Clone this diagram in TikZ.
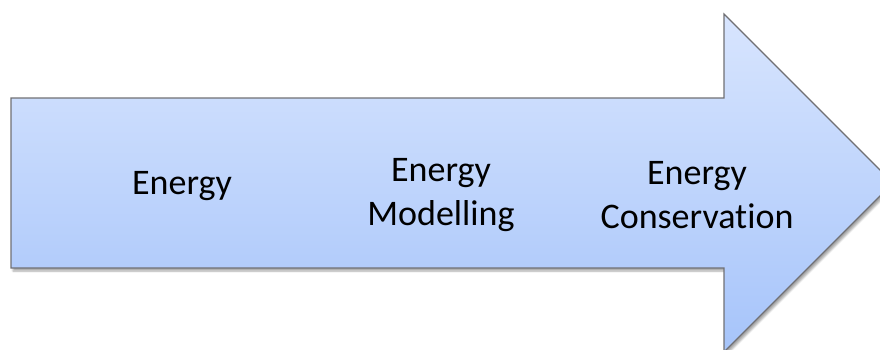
\documentclass[tikz,border=0pt]{standalone}
\usepackage{fontspec}
\setmainfont[Ligatures=NoCommon]{Carlito}
\usetikzlibrary{shadows.blur}
\definecolor{arrowtop}{RGB}{216,229,254}
\definecolor{arrowbot}{RGB}{166,196,250}
\definecolor{arrowline}{RGB}{112,112,116}
\tikzset{
  bigarrow/.style={draw=arrowline, line width=1.2pt, line join=miter,
    top color=arrowtop, bottom color=arrowbot,
    blur shadow={shadow xshift=2pt, shadow yshift=-3pt, shadow blur steps=6, shadow opacity=35}},
  stage/.style={font=\fontsize{36}{44}\selectfont, align=center, text=black, inner sep=0pt}
}
\begin{document}
\begin{tikzpicture}[x=1pt, y=-1pt]
  \useasboundingbox (0,0) rectangle (880,349);
  \clip (0,0) rectangle (880,349);
  % arrow body and head
  \path[bigarrow] (11,98) -- (724,98) -- (724,14) -- (893,183)
    -- (724,352) -- (724,268) -- (11,268) -- cycle;
  % stage labels
  \node[stage] (s1) at (182,186) {Energy};
  \node[stage] (s2) at (441,195) {Energy\\Modelling};
  \node[stage] (s3) at (697,195) {Energy\\Conservation};
\end{tikzpicture}
\end{document}
